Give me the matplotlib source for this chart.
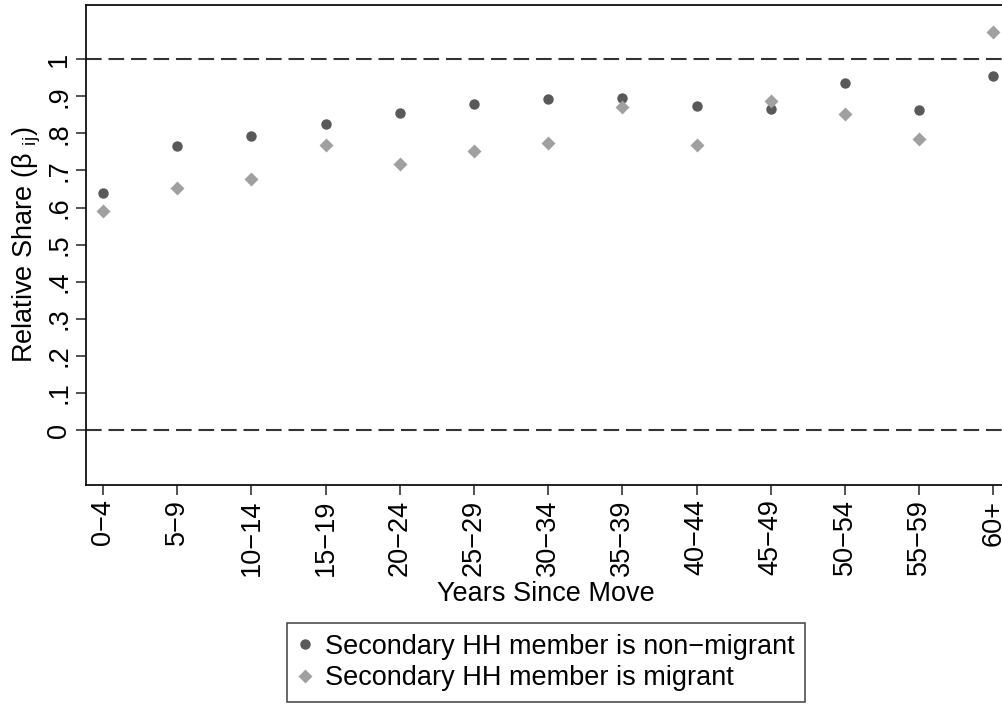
import matplotlib
matplotlib.use("Agg")
import matplotlib.pyplot as plt
import numpy as np

plt.rcParams["font.family"] = ["Liberation Sans", "DejaVu Sans"]

# dados
grupos = ["0−4", "5−9", "10−14", "15−19", "20−24", "25−29", "30−34",
          "35−39", "40−44", "45−49", "50−54", "55−59", "60+"]
nao_migrante = [0.638, 0.765, 0.794, 0.825, 0.855, 0.880, 0.893,
                0.894, 0.874, 0.866, 0.936, 0.862, 0.954]
migrante = [0.590, 0.653, 0.676, 0.768, 0.717, 0.752, 0.774,
            0.871, 0.768, 0.888, 0.852, 0.786, 1.072]
y_ticks = [0, 0.1, 0.2, 0.3, 0.4, 0.5, 0.6, 0.7, 0.8, 0.9, 1]
y_labels = ["0", ".1", ".2", ".3", ".4", ".5", ".6", ".7", ".8", ".9", "1"]

W, H = 1003, 710
fig = plt.figure(figsize=(W / 100, H / 100), dpi=100)
# posicao do eixo em pixels
esq, dir_, base, topo = 86, 1006, 485, 5
ax = fig.add_axes([esq / W, (H - base) / H, (dir_ - esq) / W, (base - topo) / H])

x = np.arange(len(grupos))
fs = 19.5

# linhas de referencia
for ref in [0, 1]:
    ax.axhline(ref, color="#333333", lw=1.5, ls=(0, (7.5, 3.3)), zorder=1)

ax.plot(x, nao_migrante, "o", color="#595959", ms=7.5, mec="none",
        label="Secondary HH member is non−migrant", zorder=3)
ax.plot(x, migrante, "D", color="#a0a0a0", ms=7.5, mec="none",
        label="Secondary HH member is migrant", zorder=3)

ax.set_xlim(-0.229, (dir_ - 103) / 74.2)
ax.set_ylim(-0.148, 1.146)

ax.set_xticks(x)
ax.set_xticklabels(grupos, rotation=90, fontsize=fs)
ax.set_yticks(y_ticks)
ax.set_yticklabels(y_labels, rotation=90, fontsize=fs, va="center")
ax.tick_params(axis="both", length=7, width=1.1, color="#222222")
ax.tick_params(axis="x", pad=3.5)
ax.tick_params(axis="y", pad=3)

for s in ax.spines.values():
    s.set_linewidth(1.3)
    s.set_color("#111111")
ax.spines["right"].set_visible(False)

ax.set_xlabel("Years Since Move", fontsize=fs, labelpad=3.5)
ax.set_ylabel("Relative Share (β $_{\\mathregular{ij}}$)", fontsize=fs, labelpad=2)

leg = ax.legend(loc="upper left", bbox_to_anchor=(287 / W, (H - 623) / H),
                bbox_transform=fig.transFigure, fontsize=fs, frameon=True,
                fancybox=False, borderpad=0.4, labelspacing=0.2,
                handletextpad=0.5, handlelength=0.5, borderaxespad=0,
                markerscale=1.0)
leg.get_frame().set_edgecolor("#111111")
leg.get_frame().set_linewidth(1.1)

fig.savefig("out.png", dpi=100)
